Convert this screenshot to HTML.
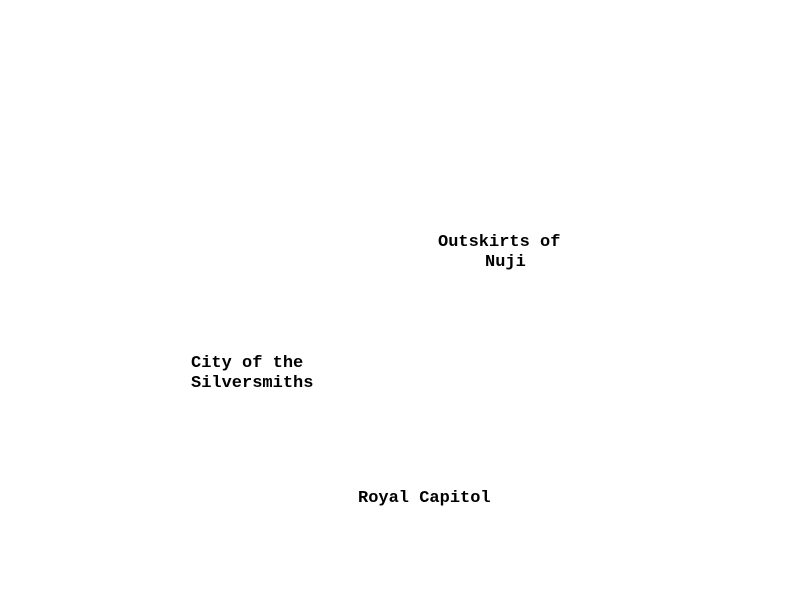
<!DOCTYPE html>
<html>
<head>
<meta charset="utf-8">
<style>
  html, body { margin: 0; padding: 0; background: #ffffff; }
  #map { position: relative; width: 800px; height: 600px; background: #ffffff; overflow: hidden; }
  .label {
    position: absolute;
    font-family: "Liberation Mono", "DejaVu Sans Mono", monospace;
    font-size: 17px;
    line-height: 20px;
    font-weight: bold;
    color: #000000;
    white-space: pre;
  }
</style>
</head>
<body>
<div id="map">
  <div class="label" style="left:438px; top:233px;">Outskirts of</div>
  <div class="label" style="left:485px; top:253px;">Nuji</div>
  <div class="label" style="left:191px; top:354px;">City of the
Silversmiths</div>
  <div class="label" style="left:358px; top:489px;">Royal Capitol</div>
</div>
</body>
</html>
